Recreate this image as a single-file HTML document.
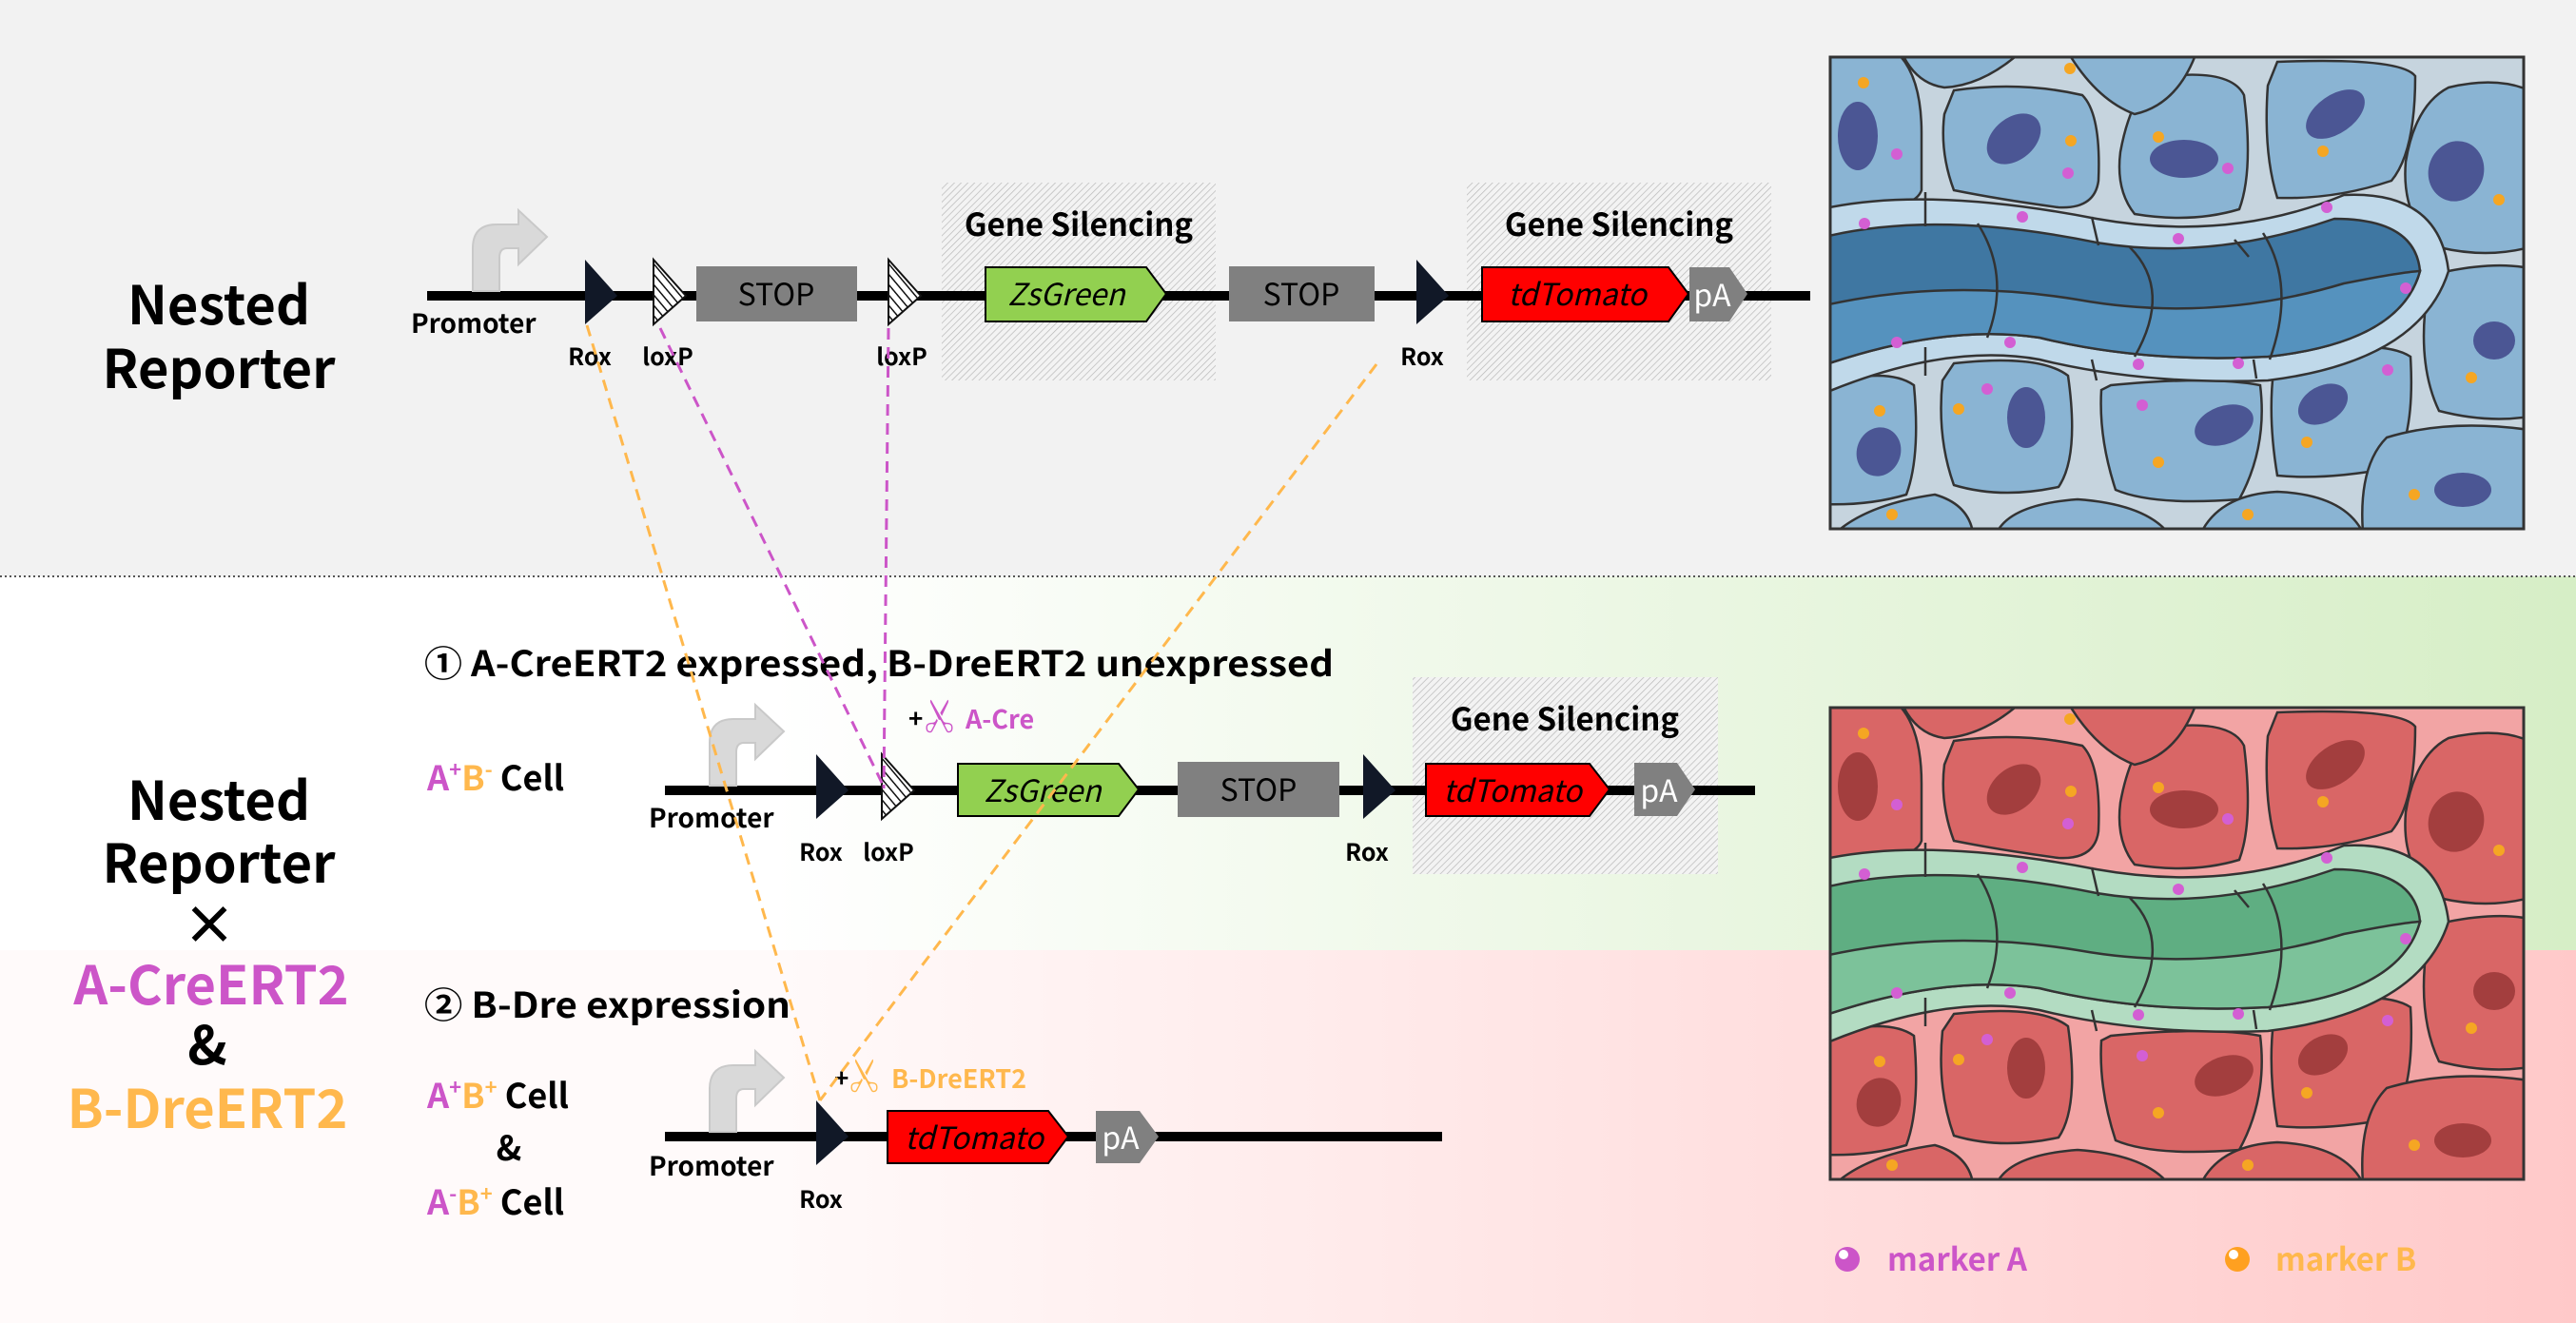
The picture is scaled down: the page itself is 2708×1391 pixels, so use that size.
<!DOCTYPE html>
<html><head><meta charset="utf-8"><style>
html,body{margin:0;padding:0;background:#fff}
svg{display:block}
text{font-family:"Noto Sans CJK SC","Liberation Sans",sans-serif}
.b{font-weight:bold}
</style></head><body>
<svg width="2708" height="1391" viewBox="0 0 2708 1391" xmlns="http://www.w3.org/2000/svg">
<defs>
<pattern id="hs" width="5" height="5" patternUnits="userSpaceOnUse" patternTransform="rotate(45)">
<rect width="5" height="5" fill="#f3f3f3"/><line x1="0" y1="0" x2="0" y2="5" stroke="#b8b8b8" stroke-width="1.4"/></pattern>
<pattern id="lx" width="7" height="7" patternUnits="userSpaceOnUse" patternTransform="rotate(-40)">
<rect width="7" height="7" fill="#fff"/><line x1="0" y1="0" x2="0" y2="7" stroke="#111" stroke-width="3"/></pattern>
<linearGradient id="gG" x1="0" x2="1" y1="0" y2="0"><stop offset="0.3" stop-color="#fff"/><stop offset="1" stop-color="#d6eec6"/></linearGradient>
<linearGradient id="gP" x1="0" x2="1" y1="0" y2="0"><stop offset="0.3" stop-color="#fffafa"/><stop offset="1" stop-color="#ffc9c9"/></linearGradient>
<clipPath id="cb"><rect x="0" y="0" width="729" height="496"/></clipPath>
<g id="cells" clip-path="url(#cb)" stroke="#333" stroke-width="2.5">
<rect x="0" y="0" width="729" height="496" fill="var(--bg)" stroke="none"/>
<g fill="var(--c1)">
<path d="M-10,-5 H70 Q96,20 96,80 V140 Q90,158 40,160 L-10,165 Z"/>
<path d="M130,35 Q200,25 265,40 Q285,60 282,130 Q278,160 240,158 Q180,150 130,140 Q115,100 120,60 Z"/>
<path d="M340,22 Q420,10 435,40 Q445,120 430,160 Q380,175 320,165 Q300,140 305,100 Q315,45 340,22 Z"/>
<path d="M470,5 Q600,0 615,20 Q615,100 590,130 Q530,150 470,148 Q455,100 460,30 Z"/>
<path d="M650,32 Q700,20 735,35 V200 Q690,212 640,200 Q600,170 605,110 Q615,50 650,32 Z"/>
<path d="M75,-5 H200 Q160,30 120,32 Q90,28 75,-5 Z"/>
<path d="M250,-5 H385 Q365,50 320,60 Q280,45 250,-5 Z"/>
<path d="M-10,345 Q60,325 88,345 Q95,420 80,460 Q40,472 -10,470 Z"/>
<path d="M130,322 Q220,312 250,335 Q262,420 240,452 Q180,465 130,450 Q112,400 118,340 Z"/>
<path d="M295,345 Q400,335 452,345 Q460,410 430,465 Q340,472 300,455 Q282,400 285,350 Z"/>
<path d="M480,315 Q580,295 610,315 Q615,400 590,432 Q520,445 470,440 Q460,380 466,330 Z"/>
<path d="M650,225 Q700,215 735,222 V378 Q690,385 640,372 Q620,330 625,270 Q630,235 650,225 Z"/>
<path d="M585,400 Q650,380 735,392 V500 H560 Q555,430 585,400 Z"/>
<path d="M6,500 Q40,470 110,460 Q145,470 150,500 Z"/>
<path d="M175,500 Q190,470 260,465 Q330,470 355,500 Z"/>
<path d="M390,500 Q410,460 470,457 Q540,460 560,500 Z"/>
</g>
<g fill="var(--nu)" stroke="none">
<ellipse cx="29" cy="83" rx="21" ry="36"/>
<ellipse cx="193" cy="86" rx="32" ry="22" transform="rotate(-40 193 86)"/>
<ellipse cx="372" cy="107" rx="36" ry="20"/>
<ellipse cx="531" cy="60" rx="35" ry="20" transform="rotate(-35 531 60)"/>
<ellipse cx="658" cy="120" rx="29" ry="32" transform="rotate(20 658 120)"/>
<ellipse cx="51" cy="415" rx="23" ry="26" transform="rotate(20 51 415)"/>
<ellipse cx="206" cy="379" rx="20" ry="32"/>
<ellipse cx="414" cy="387" rx="32" ry="20" transform="rotate(-20 414 387)"/>
<ellipse cx="518" cy="365" rx="28" ry="19" transform="rotate(-30 518 365)"/>
<ellipse cx="698" cy="298" rx="22" ry="20"/>
<ellipse cx="665" cy="455" rx="30" ry="18"/>
</g>
<path d="M-10,160 Q100,135 280,170 Q420,195 540,145 Q640,140 650,225 Q620,320 460,340 Q330,345 220,318 Q120,300 -10,355 Z" fill="var(--m)"/>
<path d="M-10,190 Q110,160 280,195 Q400,215 530,170 Q615,170 620,225 Q600,300 460,315 Q330,322 220,295 Q120,280 -10,325 Z" fill="var(--t1)"/>
<path d="M-10,262 Q120,232 260,255 Q400,280 540,238 Q600,226 620,225 Q600,300 460,315 Q330,322 220,295 Q120,280 -10,325 Z" fill="var(--t2)"/>
<g fill="none"><path d="M155,175 Q190,230 165,295"/><path d="M315,200 Q360,245 320,315"/><path d="M455,185 Q490,240 462,318"/><path d="M100,142 V178"/><path d="M275,168 L282,198"/><path d="M425,192 L440,210"/><path d="M100,305 V335"/><path d="M275,318 L280,340"/><path d="M445,318 L448,338"/></g>
<g stroke="none">
<g fill="#f5a623"><circle cx="35" cy="27" r="6"/><circle cx="252" cy="12" r="6"/><circle cx="253" cy="88" r="6"/><circle cx="345" cy="84" r="6"/><circle cx="518" cy="99" r="6"/><circle cx="703" cy="150" r="6"/><circle cx="52" cy="372" r="6"/><circle cx="135" cy="370" r="6"/><circle cx="345" cy="426" r="6"/><circle cx="501" cy="405" r="6"/><circle cx="674" cy="337" r="6"/><circle cx="65" cy="481" r="6"/><circle cx="439" cy="481" r="6"/><circle cx="614" cy="460" r="6"/></g>
<g fill="#d35fd3"><circle cx="70" cy="102" r="6"/><circle cx="250" cy="122" r="6"/><circle cx="418" cy="117" r="6"/><circle cx="36" cy="175" r="6"/><circle cx="202" cy="168" r="6"/><circle cx="366" cy="191" r="6"/><circle cx="522" cy="158" r="6"/><circle cx="605" cy="243" r="6"/><circle cx="70" cy="300" r="6"/><circle cx="189" cy="300" r="6"/><circle cx="324" cy="323" r="6"/><circle cx="429" cy="322" r="6"/><circle cx="586" cy="329" r="6"/><circle cx="165" cy="349" r="6"/><circle cx="328" cy="366" r="6"/></g>
</g>
</g>
<path id="prom" d="M0,0 V-45 Q0,-70 25,-70 H48 V-85 L78,-57 L48,-28 V-45 H36 Q28,-45 28,-35 V0 Z" fill="#d9d9d9" stroke="#c9c9c9" stroke-width="2"/>
<path id="rox" d="M0,-38 L34,0 L0,30 Z" fill="#111827"/>
<path id="lox" d="M0,-38 L34,0 L0,30 Z" fill="url(#lx)" stroke="#111" stroke-width="2"/>
</defs>

<rect x="0" y="0" width="2708" height="606" fill="#f2f2f2"/>
<rect x="0" y="606" width="2708" height="393" fill="url(#gG)"/>
<rect x="0" y="999" width="2708" height="392" fill="url(#gP)"/>
<line x1="0" y1="606" x2="2708" y2="606" stroke="#555" stroke-width="2" stroke-dasharray="2 3"/>

<g class="b" font-size="56" text-anchor="middle" fill="#000">
<text x="230" y="341">Nested</text>
<text x="230" y="408">Reporter</text>
<text x="230" y="862">Nested</text>
<text x="230" y="928">Reporter</text>
<text x="220" y="993">×</text>
<text x="222" y="1056" fill="#cc55c8">A-CreERT2</text>
<text x="218" y="1119">&amp;</text>
<text x="218" y="1186" fill="#ffb84d">B-DreERT2</text>
</g>

<rect x="990" y="192" width="288" height="208" fill="url(#hs)"/>
<rect x="1542" y="192" width="320" height="208" fill="url(#hs)"/>
<text class="b" x="1134" y="248" font-size="33" text-anchor="middle">Gene Silencing</text>
<text class="b" x="1702" y="248" font-size="33" text-anchor="middle">Gene Silencing</text>
<rect x="449" y="306" width="1454" height="10" fill="#000"/>
<use href="#prom" x="497" y="306"/>
<text class="b" x="432" y="350" font-size="28">Promoter</text>
<use href="#rox" x="615" y="311"/>
<use href="#lox" x="687" y="311"/>
<rect x="732" y="280" width="169" height="58" fill="#808080"/>
<text x="816" y="321" font-size="32" text-anchor="middle">STOP</text>
<use href="#lox" x="934" y="311"/>
<path d="M1036,281 H1205 L1226,309 L1205,338 H1036 Z" fill="#92d050" stroke="#000" stroke-width="2"/>
<text x="1121" y="321" font-size="32" font-style="italic" text-anchor="middle">ZsGreen</text>
<rect x="1292" y="280" width="153" height="58" fill="#808080"/>
<text x="1368" y="321" font-size="32" text-anchor="middle">STOP</text>
<use href="#rox" x="1489" y="311"/>
<path d="M1558,281 H1754 L1775,309 L1754,338 H1558 Z" fill="#ff0000" stroke="#000" stroke-width="2"/>
<text x="1658" y="321" font-size="32" font-style="italic" text-anchor="middle">tdTomato</text>
<path d="M1776,281 H1818 L1837,309 L1818,338 H1776 Z" fill="#808080"/>
<text x="1800" y="322" font-size="32" fill="#fff" text-anchor="middle">pA</text>
<g class="b" font-size="25" text-anchor="middle">
<text x="620" y="384">Rox</text><text x="702" y="384">loxP</text><text x="948" y="384">loxP</text><text x="1495" y="384">Rox</text>
</g>

<text class="b" x="446" y="711" font-size="37" textLength="956" lengthAdjust="spacingAndGlyphs">① A-CreERT2 expressed, B-DreERT2 unexpressed</text>
<text class="b" x="955" y="765" font-size="26">+</text>
<text class="b" x="974" y="768" font-size="38" fill="#cc55c8" transform="rotate(-90 990 756)">✂</text>
<text class="b" x="1015" y="766" font-size="27" fill="#cc55c8">A-Cre</text>
<text class="b" x="449" y="831" font-size="36"><tspan fill="#cc55c8">A</tspan><tspan fill="#cc55c8" font-size="22" dy="-14">+</tspan><tspan fill="#ffb84d" dy="14">B</tspan><tspan fill="#ffb84d" font-size="22" dy="-14">-</tspan><tspan dy="14"> Cell</tspan></text>
<rect x="1485" y="712" width="321" height="207" fill="url(#hs)"/>
<text class="b" x="1645" y="768" font-size="33" text-anchor="middle">Gene Silencing</text>
<rect x="699" y="826" width="1146" height="10" fill="#000"/>
<use href="#prom" x="746" y="826"/>
<text class="b" x="682" y="870" font-size="28">Promoter</text>
<use href="#rox" x="858" y="831"/>
<use href="#lox" x="927" y="831"/>
<path d="M1007,803 H1176 L1197,830 L1176,858 H1007 Z" fill="#92d050" stroke="#000" stroke-width="2"/>
<text x="1096" y="843" font-size="32" font-style="italic" text-anchor="middle">ZsGreen</text>
<rect x="1238" y="801" width="170" height="58" fill="#808080"/>
<text x="1323" y="842" font-size="32" text-anchor="middle">STOP</text>
<use href="#rox" x="1433" y="831"/>
<path d="M1499,803 H1671 L1692,830 L1671,858 H1499 Z" fill="#ff0000" stroke="#000" stroke-width="2"/>
<text x="1590" y="843" font-size="32" font-style="italic" text-anchor="middle">tdTomato</text>
<path d="M1718,802 H1763 L1782,830 L1763,858 H1718 Z" fill="#808080"/>
<text x="1744" y="843" font-size="32" fill="#fff" text-anchor="middle">pA</text>
<g class="b" font-size="25" text-anchor="middle">
<text x="863" y="905">Rox</text><text x="934" y="905">loxP</text><text x="1437" y="905">Rox</text>
</g>

<text class="b" x="446" y="1070" font-size="37" textLength="385" lengthAdjust="spacingAndGlyphs">② B-Dre expression</text>
<text class="b" x="877" y="1143" font-size="26">+</text>
<text class="b" x="895" y="1146" font-size="38" fill="#ffb84d" transform="rotate(-90 911 1134)">✂</text>
<text class="b" x="937" y="1144" font-size="27" fill="#ffb84d">B-DreERT2</text>
<text class="b" x="449" y="1165" font-size="36"><tspan fill="#cc55c8">A</tspan><tspan fill="#cc55c8" font-size="22" dy="-14">+</tspan><tspan fill="#ffb84d" dy="14">B</tspan><tspan fill="#ffb84d" font-size="22" dy="-14">+</tspan><tspan dy="14"> Cell</tspan></text>
<text class="b" x="535" y="1220" font-size="36" text-anchor="middle">&amp;</text>
<text class="b" x="449" y="1277" font-size="36"><tspan fill="#cc55c8">A</tspan><tspan fill="#cc55c8" font-size="22" dy="-14">-</tspan><tspan fill="#ffb84d" dy="14">B</tspan><tspan fill="#ffb84d" font-size="22" dy="-14">+</tspan><tspan dy="14"> Cell</tspan></text>
<rect x="699" y="1190" width="817" height="10" fill="#000"/>
<use href="#prom" x="746" y="1190"/>
<text class="b" x="682" y="1236" font-size="28">Promoter</text>
<use href="#rox" x="858" y="1195"/>
<path d="M933,1168 H1102 L1123,1195 L1102,1223 H933 Z" fill="#ff0000" stroke="#000" stroke-width="2"/>
<text x="1024" y="1208" font-size="32" font-style="italic" text-anchor="middle">tdTomato</text>
<path d="M1152,1168 H1198 L1218,1195 L1198,1223 H1152 Z" fill="#808080"/>
<text x="1178" y="1208" font-size="32" fill="#fff" text-anchor="middle">pA</text>
<text class="b" x="863" y="1270" font-size="25" text-anchor="middle">Rox</text>

<g fill="none" stroke-width="3" stroke-dasharray="12 8">
<line x1="617" y1="342" x2="862" y2="1157" stroke="#ffb84d"/>
<line x1="1447" y1="383" x2="862" y2="1157" stroke="#ffb84d"/>
<line x1="694" y1="345" x2="930" y2="829" stroke="#cc55c8"/>
<line x1="934" y1="345" x2="929" y2="829" stroke="#cc55c8"/>
</g>

<g transform="translate(1924,60)" style="--bg:#c6d4de;--c1:#8ab4d3;--nu:#4b5694;--m:#c0d9ea;--t1:#3f77a2;--t2:#5592be">
<use href="#cells"/>
<rect x="0" y="0" width="729" height="496" fill="none" stroke="#333" stroke-width="3"/>
</g>
<g transform="translate(1924,744)" style="--bg:#f2a4a4;--c1:#d96666;--nu:#a33e3e;--m:#b3dcc2;--t1:#5fae82;--t2:#7cc29a">
<use href="#cells"/>
<rect x="0" y="0" width="729" height="496" fill="none" stroke="#333" stroke-width="3"/>
</g>

<circle cx="1942" cy="1324" r="13" fill="#cc55c8"/><circle cx="1938" cy="1319" r="5" fill="#fff"/>
<text class="b" x="1984" y="1336" font-size="33" fill="#cc55c8">marker A</text>
<circle cx="2352" cy="1324" r="13" fill="#ffa020"/><circle cx="2348" cy="1319" r="5" fill="#fff"/>
<text class="b" x="2392" y="1336" font-size="33" fill="#ffb84d">marker B</text>
</svg>
</body></html>
